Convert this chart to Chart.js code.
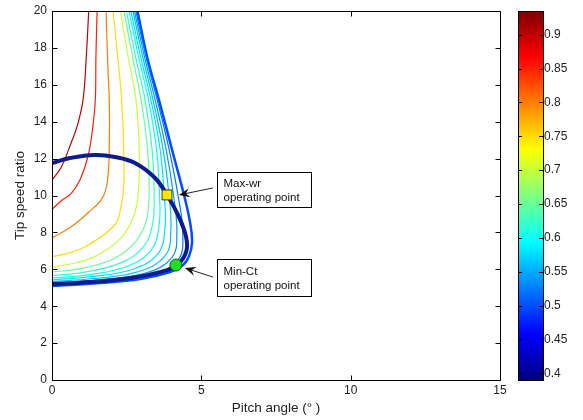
<!DOCTYPE html>
<html><head><meta charset="utf-8">
<script src="https://cdn.jsdelivr.net/npm/chart.js@4.4.1/dist/chart.umd.min.js"></script>
<style>html,body{margin:0;padding:0;background:#fff}#wrap{width:583px;height:420px;position:relative}</style>
</head><body><div id="wrap"><canvas id="c" width="583" height="420"></canvas></div>
<script>
// ---------- data ----------
const xTicks = [0, 5, 10, 15];
const yTicks = [0, 2, 4, 6, 8, 10, 12, 14, 16, 18, 20];
const cbTicks = [0.4, 0.45, 0.5, 0.55, 0.6, 0.65, 0.7, 0.75, 0.8, 0.85, 0.9];
const cbRange = [0.39, 0.935];

// contour lines (pitch angle, tip speed ratio)
const c090 = [[1.23,20],[1.14,17.3],[1.04,15.2],[0.85,13.8],[0.64,12.85],[0.3,11.5],[0,10.85]];
const c085 = [[1.51,20],[1.47,17.5],[1.45,15.2],[1.35,13.5],[1.2,12.1],[0.95,10.9],[0.64,10.1],[0.3,9.7],[0,9.25]];
const c080 = [[1.81,20],[1.87,17],[1.92,15],[1.92,13],[1.87,11],[1.7,9.9],[1.2,9.05],[0.64,8.3],[0,7.7]];
const c075 = [[2.04,20],[2.2,17.5],[2.33,15.2],[2.4,12.5],[2.4,10.5],[2.3,9.3],[2.1,8.4],[1.2,7.3],[0.6,6.9],[0,6.68]];
const c070 = [[2.29,20],[2.55,17.5],[2.81,15.2],[2.92,12.5],[2.88,10.0],[2.71,8.78],[2.31,7.7],[1.54,6.78],[0.77,6.34],[0,6.12]];
const c065 = [[2.41,20],[2.7,17.5],[2.98,15.2],[3.2,12.5],[3.25,10],[3.15,8.6],[2.8,7.5],[2.1,6.6],[1.0,6.05],[0,5.85]];
const c062 = [[2.49,20],[2.8,17.5],[3.11,15.2],[3.35,12.5],[3.42,10],[3.36,8.4],[3.05,7.2],[2.3,6.35],[1.1,5.85],[0,5.66]];
const c060 = [[2.58,20],[2.9,17.5],[3.23,15.2],[3.5,12.5],[3.6,10],[3.58,8.3],[3.3,7.0],[2.5,6.15],[1.2,5.7],[0,5.53]];
const c058 = [[2.64,20],[2.97,17.5],[3.31,15.2],[3.62,12.5],[3.76,10],[3.78,8.2],[3.55,6.85],[2.7,6.0],[1.3,5.6],[0,5.43]];
const c056 = [[2.71,20],[3.04,17.5],[3.38,15.2],[3.72,12.5],[3.92,10],[3.98,8.1],[3.8,6.75],[2.9,5.88],[1.4,5.5],[0,5.34]];
const c054 = [[2.76,20],[3.1,17.5],[3.45,15.2],[3.82,12.5],[4.07,10],[4.18,8.0],[4.02,6.65],[3.1,5.78],[1.5,5.42],[0,5.26]];
const c052 = [[2.81,20],[3.15,17.5],[3.52,15.2],[3.92,12.5],[4.22,10],[4.38,7.9],[4.22,6.5],[3.3,5.7],[1.55,5.35],[0,5.18]];
const c050 = [[2.86,20],[3.21,17.34],[3.58,15.18],[4.02,12.47],[4.42,10.03],[4.62,8.56],[4.69,7.48],[4.59,6.72],[4.39,6.23],[3.95,5.85],[2.95,5.47],[1.61,5.26],[0,5.1]];
const contourLevels = [0.9, 0.85, 0.8, 0.75, 0.7, 0.65, 0.62, 0.6, 0.58, 0.56, 0.54, 0.52, 0.5];
const contourLines  = [c090, c085, c080, c075, c070, c065, c062, c060, c058, c056, c054, c052, c050];

// operating trajectory
const trajectory = [[0,11.76],[0.6,12.03],[1.44,12.2],[2.11,12.09],[2.78,11.76],[3.45,10.95],[3.85,10.03],[4.22,8.94],[4.49,7.75],[4.49,6.94],[4.19,6.23],[3.62,5.85],[2.61,5.53],[1.27,5.31],[0,5.2]];
const maxWrPoint = [3.85, 10.03];
const minCtPoint = [4.15, 6.23];

// annotations: box corners and arrow from/to, in data units
const annotations = [
  {lines: ['Max-wr', 'operating point'], box: [5.51, 11.29, 8.67, 9.39], from: [5.39, 10.41], to: [4.25, 10.03]},
  {lines: ['Min-Ct', 'operating point'], box: [5.51, 6.56, 8.67, 4.55], from: [5.39, 5.58], to: [4.45, 6.07]}
];

// ---------- styles ----------
const FONT = "'Liberation Sans', Arial, Helvetica, sans-serif";
const jetStops = [[0,[0,0,128]],[0.125,[0,0,255]],[0.375,[0,255,255]],[0.625,[255,255,0]],[0.875,[255,0,0]],[1,[128,0,0]]];
function jet(v){
  let t = (v - cbRange[0]) / (cbRange[1] - cbRange[0]);
  t = Math.max(0, Math.min(1, t));
  for (let i = 1; i < jetStops.length; i++) {
    if (t <= jetStops[i][0]) {
      const [t0,a] = jetStops[i-1], [t1,b] = jetStops[i];
      const f = (t - t0) / (t1 - t0);
      return 'rgb(' + a.map((c,k)=>Math.round(c + (b[k]-c)*f)).join(',') + ')';
    }
  }
  return 'rgb(128,0,0)';
}
const toXY = arr => arr.map(p => ({x: p[0], y: p[1]}));

const datasets = [];
datasets.push({label:'Max-wr', data: toXY([maxWrPoint]), showLine:false, pointStyle:'rect', pointRadius:7, pointBackgroundColor:'#ffe600', pointBorderColor:'#3a3a00', pointBorderWidth:1, order:0});
datasets.push({label:'Min-Ct', data: toXY([minCtPoint]), showLine:false, pointStyle:'circle', pointRadius:6, pointBackgroundColor:'#1fe01f', pointBorderColor:'#0a600a', pointBorderWidth:1, order:0});
datasets.push({label:'trajectory', data: toXY(trajectory), showLine:true, borderColor:'#0c1b8e', borderWidth:4, pointRadius:0, tension:0.4, fill:false, order:1});
contourLines.forEach((line, i) => {
  const lvl = contourLevels[i];
  datasets.push({label:'c'+lvl, data: toXY(line), showLine:true, borderColor: jet(lvl), borderWidth: lvl === 0.5 ? 2.5 : 1.2, pointRadius:0, tension:0.4, fill:false, order:2});
});

const framePlugin = {
  id:'frame',
  afterDatasetsDraw(chart){
    const {ctx, chartArea:a, scales:{x,y}} = chart;
    ctx.save();
    // annotations
    ctx.font = '11.5px ' + FONT;
    annotations.forEach(an => {
      const bx0 = Math.round(x.getPixelForValue(an.box[0]))+0.5, by0 = Math.round(y.getPixelForValue(an.box[1]))+0.5;
      const bx1 = Math.round(x.getPixelForValue(an.box[2]))+0.5, by1 = Math.round(y.getPixelForValue(an.box[3]))+0.5;
      ctx.fillStyle = '#fff'; ctx.fillRect(bx0, by0, bx1-bx0, by1-by0);
      ctx.strokeStyle = '#000'; ctx.lineWidth = 1; ctx.strokeRect(bx0, by0, bx1-bx0, by1-by0);
      ctx.fillStyle = '#111'; ctx.textAlign = 'left'; ctx.textBaseline = 'middle';
      const h = by1 - by0;
      an.lines.forEach((t, k) => ctx.fillText(t, bx0 + 6, by0 + h*0.32 + k*14.5));
      const fx = x.getPixelForValue(an.from[0]), fy = y.getPixelForValue(an.from[1]);
      const tx = x.getPixelForValue(an.to[0]), ty = y.getPixelForValue(an.to[1]);
      const ang = Math.atan2(ty - fy, tx - fx);
      ctx.strokeStyle = '#222'; ctx.lineWidth = 1;
      ctx.beginPath(); ctx.moveTo(fx, fy); ctx.lineTo(tx - 6*Math.cos(ang), ty - 6*Math.sin(ang)); ctx.stroke();
      ctx.fillStyle = '#111';
      ctx.beginPath();
      ctx.moveTo(tx, ty);
      ctx.lineTo(tx - 11*Math.cos(ang) + 4.5*Math.sin(ang), ty - 11*Math.sin(ang) - 4.5*Math.cos(ang));
      ctx.lineTo(tx - 7*Math.cos(ang), ty - 7*Math.sin(ang));
      ctx.lineTo(tx - 11*Math.cos(ang) - 4.5*Math.sin(ang), ty - 11*Math.sin(ang) + 4.5*Math.cos(ang));
      ctx.closePath(); ctx.fill();
    });
    // axes box with inward ticks
    ctx.strokeStyle = '#000'; ctx.lineWidth = 1;
    const L = Math.round(a.left)+0.5, R = Math.round(a.right)+0.5, T = Math.round(a.top)+0.5, B = Math.round(a.bottom)+0.5;
    ctx.strokeRect(L, T, R-L, B-T);
    ctx.beginPath();
    xTicks.forEach(v => { const px = Math.round(x.getPixelForValue(v))+0.5; ctx.moveTo(px, B); ctx.lineTo(px, B-5); ctx.moveTo(px, T); ctx.lineTo(px, T+5); });
    yTicks.forEach(v => { const py = Math.round(y.getPixelForValue(v))+0.5; ctx.moveTo(L, py); ctx.lineTo(L+5, py); ctx.moveTo(R, py); ctx.lineTo(R-5, py); });
    ctx.stroke();
    ctx.restore();
  },
  afterDraw(chart){
    const {ctx, chartArea:a, scales:{cb}} = chart;
    ctx.save();
    const x0 = a.right + 18, w = 25;
    const top = cb.getPixelForValue(cbRange[1]), bot = cb.getPixelForValue(cbRange[0]);
    const g = ctx.createLinearGradient(0, bot, 0, top);
    jetStops.forEach(([t,c]) => g.addColorStop(t, 'rgb(' + c.join(',') + ')'));
    ctx.fillStyle = g;
    ctx.fillRect(x0, top, w, bot - top);
    ctx.strokeStyle = '#000'; ctx.lineWidth = 1;
    ctx.strokeRect(Math.round(x0)+0.5, Math.round(top)+0.5, w, Math.round(bot-top));
    ctx.beginPath();
    cbTicks.forEach(v => { const py = Math.round(cb.getPixelForValue(v))+0.5; ctx.moveTo(x0, py); ctx.lineTo(x0+4, py); ctx.moveTo(x0+w, py); ctx.lineTo(x0+w-4, py); });
    ctx.stroke();
    ctx.restore();
  }
};

const noVPad = s => { s.paddingTop = 0; s.paddingBottom = 0; };

new Chart(document.getElementById('c'), {
  type: 'scatter',
  data: { datasets },
  options: {
    responsive: false, animation: false, devicePixelRatio: 1,
    layout: { padding: { top: 11, right: 13, left: 0, bottom: 0 } },
    plugins: { legend: { display: false }, tooltip: { enabled: false } },
    scales: {
      x: {
        type: 'linear', min: 0, max: 15,
        afterBuildTicks: s => { s.ticks = xTicks.map(v => ({value: v})); },
        afterFit: s => { s.height = 40; s.paddingLeft = 0; s.paddingRight = 0; },
        grid: { display: false, drawTicks: false }, border: { display: false },
        ticks: { color: '#222', padding: 3, maxRotation: 0, autoSkip: false, font: { family: FONT, size: 12 } },
        title: { display: true, text: 'Pitch angle (° )', color: '#222', font: { family: FONT, size: 13.5 }, padding: { top: 0, bottom: 4 } }
      },
      y: {
        type: 'linear', min: 0, max: 20,
        afterBuildTicks: s => { s.ticks = yTicks.map(v => ({value: v})); },
        afterFit: s => { s.width = 52; noVPad(s); },
        grid: { display: false, drawTicks: false }, border: { display: false },
        ticks: { color: '#222', padding: 5, autoSkip: false, font: { family: FONT, size: 12 } },
        title: { display: true, text: 'Tip speed ratio', color: '#222', font: { family: FONT, size: 13.5 }, padding: { top: 12, bottom: 0 } }
      },
      cb: {
        type: 'linear', position: 'right', min: cbRange[0], max: cbRange[1],
        afterBuildTicks: s => { s.ticks = cbTicks.map(v => ({value: v})); },
        afterFit: s => { s.width = 70; noVPad(s); },
        grid: { display: false, drawTicks: false }, border: { display: false },
        ticks: { color: '#222', padding: 44, autoSkip: false, font: { family: FONT, size: 12 }, callback: v => String(v) }
      }
    }
  },
  plugins: [framePlugin]
});
</script></body></html>
